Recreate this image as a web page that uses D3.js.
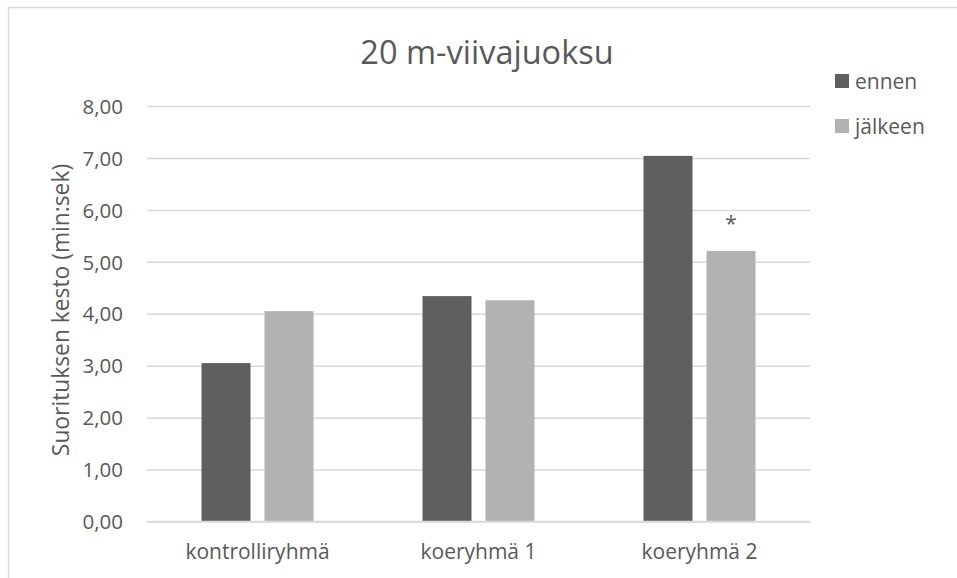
<!DOCTYPE html>
<html>
<head>
<meta charset="utf-8">
<script src="https://cdn.jsdelivr.net/npm/d3@7"></script>
<style>
  html, body { margin: 0; padding: 0; background: #fff; }
  svg { display: block; }
  text { font-family: "Open Sans", "DejaVu Sans", sans-serif; fill: #595959; }
</style>
</head>
<body>
<svg id="chart" width="957" height="578"></svg>
<script>
// Ryhmät ja sarjat
const categories = ["kontrolliryhmä", "koeryhmä 1", "koeryhmä 2"];
const seriesNames = ["ennen", "jälkeen"];
const ennenValues = [3.05, 4.34, 7.04];
const jalkeenValues = [4.05, 4.26, 5.21];
const significant = [false, false, true];   // merkitsevä muutos (*)
const yTicks = [0, 1, 2, 3, 4, 5, 6, 7, 8];

const colors = { "ennen": "#5f5f5f", "jälkeen": "#b2b2b2" };

const svg = d3.select("#chart");
const W = 957, H = 578;

// Kaavion reunus
svg.append("rect")
  .attr("x", 8.5).attr("y", 7.5)
  .attr("width", W + 10).attr("height", H + 10)
  .attr("fill", "#fff").attr("stroke", "#d9d9d9").attr("stroke-width", 1.5);

const plot = { left: 147, right: 810, top: 106, bottom: 521.5 };

const y = d3.scaleLinear().domain([0, 8]).range([plot.bottom, plot.top]);
const x0 = d3.scaleBand().domain(categories).range([plot.left, plot.right]).padding(0);
const groupW = 112;
const x1 = d3.scaleBand().domain(seriesNames)
  .range([(x0.bandwidth() - groupW) / 2, (x0.bandwidth() + groupW) / 2])
  .paddingInner(14 / 63).paddingOuter(0);

const fi = d3.formatLocale({ decimal: ",", thousands: "\u00a0", grouping: [3], currency: ["", " €"] });
const fmt = fi.format(".2f");

// Apuviivat ja y-akselin arvot
const yAxis = d3.axisLeft(y)
  .tickValues(yTicks)
  .tickSize(-(plot.right - plot.left))
  .tickPadding(24)
  .tickFormat(fmt);

const gy = svg.append("g").attr("transform", `translate(${plot.left},0)`).call(yAxis);
gy.select(".domain").remove();
gy.selectAll(".tick line").attr("stroke", "#d9d9d9").attr("stroke-width", 1.5);
gy.selectAll(".tick text")
  .style("font-size", "20.5px")
  .attr("fill", "#595959")
  .attr("dy", "0.35em");

// Pylväät
const rows = categories.map((c, i) => ({
  category: c,
  values: [
    { key: "ennen", value: ennenValues[i] },
    { key: "jälkeen", value: jalkeenValues[i] }
  ],
  sig: significant[i]
}));

const groups = svg.append("g").selectAll("g")
  .data(rows).join("g")
  .attr("transform", d => `translate(${x0(d.category)},0)`);

groups.selectAll("rect")
  .data(d => d.values).join("rect")
  .attr("x", d => x1(d.key))
  .attr("y", d => y(d.value))
  .attr("width", x1.bandwidth())
  .attr("height", d => y(0) - y(d.value))
  .attr("fill", d => colors[d.key]);

// Merkitsevyystähti
groups.filter(d => d.sig).append("text")
  .attr("x", x1("jälkeen") + x1.bandwidth() / 2)
  .attr("y", d => y(d.values[1].value) - 20)
  .attr("text-anchor", "middle")
  .style("font-size", "21px")
  .attr("fill", "#404040")
  .text("*");

// Kategoria-akseli
svg.append("line")
  .attr("x1", plot.left).attr("x2", plot.right)
  .attr("y1", y(0)).attr("y2", y(0))
  .attr("stroke", "#d9d9d9").attr("stroke-width", 1.5);

svg.append("g").selectAll("text")
  .data(categories).join("text")
  .attr("x", d => x0(d) + x0.bandwidth() / 2)
  .attr("y", 559)
  .attr("text-anchor", "middle")
  .style("font-size", "21px")
  .text(d => d);

// Otsikko
svg.append("text")
  .attr("x", 487).attr("y", 64)
  .attr("text-anchor", "middle")
  .style("font-size", "32.5px")
  .text("20 m-viivajuoksu");

// Y-akselin nimi
svg.append("text")
  .attr("transform", `translate(69,310) rotate(-90)`)
  .attr("text-anchor", "middle")
  .style("font-size", "22.8px")
  .text("Suorituksen kesto (min:sek)");

// Selite
const legend = svg.append("g").selectAll("g")
  .data(seriesNames).join("g")
  .attr("transform", (d, i) => `translate(835,${74 + i * 45})`);
legend.append("rect")
  .attr("width", 14).attr("height", 14)
  .attr("fill", d => colors[d]);
legend.append("text")
  .attr("x", 20).attr("y", 14.5)
  .style("font-size", "21px")
  .text(d => d);
</script>
</body>
</html>
